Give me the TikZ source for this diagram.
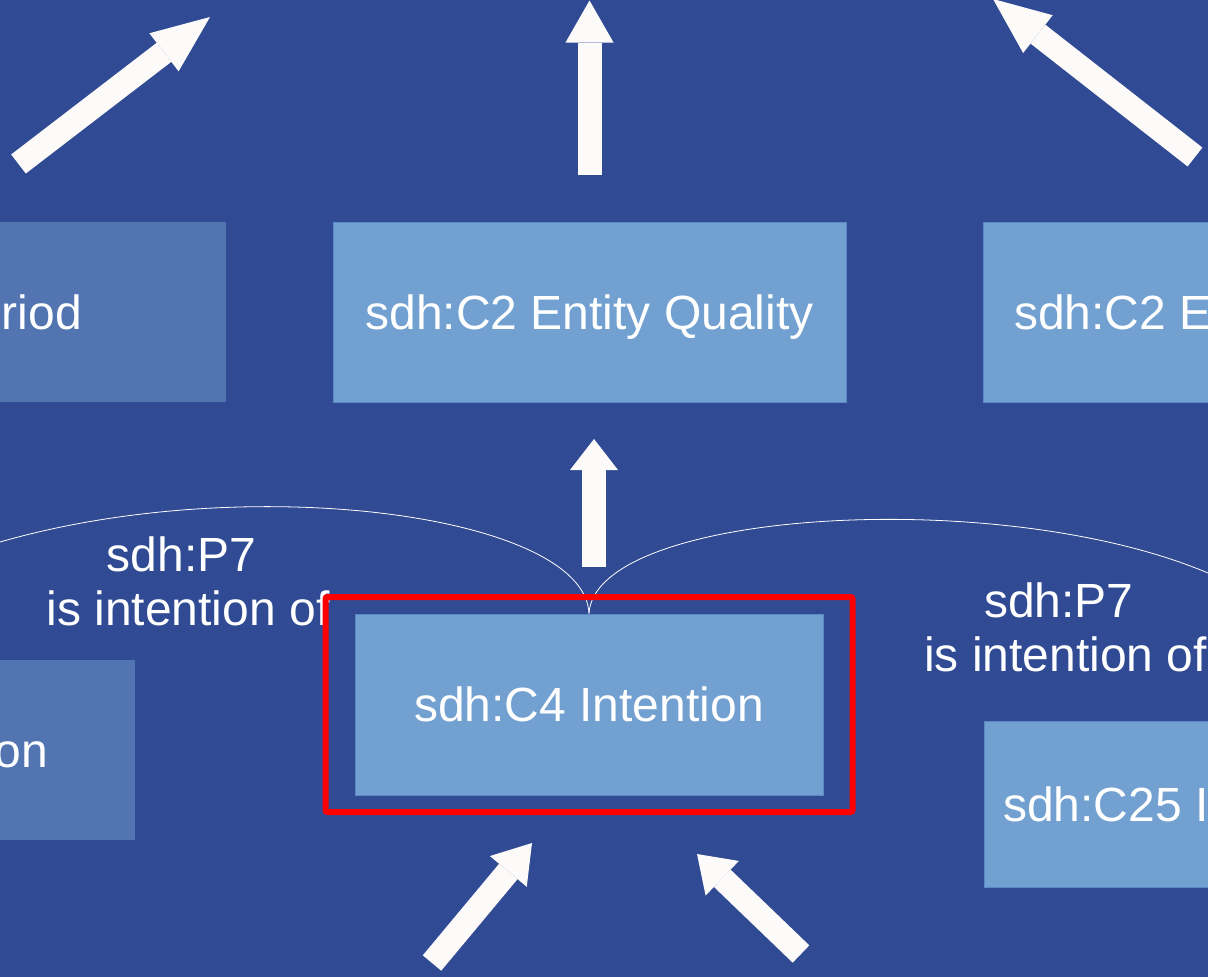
\documentclass[tikz,border=0pt]{standalone}
\usepackage{fontspec}
\setmainfont{Liberation Sans}
\usetikzlibrary{arrows.meta,calc}
\definecolor{bg}{RGB}{48,75,148}
\definecolor{boxfill}{RGB}{114,160,208}
\definecolor{boxedge}{RGB}{92,137,198}
\definecolor{fadefill}{RGB}{82,117,178}
\definecolor{arrowwhite}{RGB}{253,250,250}
\tikzset{
  bigfont/.style={font=\fontsize{48}{54}\selectfont},
  cls/.style={fill=boxfill, draw=boxedge, line width=1pt, text=white, bigfont,
              text height=34.5pt, text depth=0pt, inner sep=0pt},
  fadecls/.style={fill=fadefill, draw=none, inner sep=0pt},
  txt/.style={text=white, bigfont, inner sep=0pt},
  lbl/.style={text=white, bigfont, inner sep=0pt, align=center},
  rel/.style={draw=white, line width=0.8pt},
  bigarrow/.style={draw=arrowwhite, line width=24pt,
     -{Triangle[length=#1, width=48pt, line width=0pt]}},
  highlight/.style={draw=red, line width=6pt, rounded corners=2pt, inner sep=0pt},
}
\begin{document}
\begin{tikzpicture}[x=1pt,y=-1pt]
\useasboundingbox (0,0) rectangle (1208,977);
\fill[bg] (0,0) rectangle (1208,977);
\clip (0,0) rectangle (1208,977);

% boxes
\node[fadecls, minimum width=226pt, minimum height=180pt, anchor=north west] (topleft) at (0,222) {};
\node[txt, anchor=base east] (topleftlabel) at (82,329) {eriod};
\node[cls, minimum width=513pt, minimum height=180pt] (quality) at (589.5,312) {sdh:C2 Entity Quality};
\node[cls, minimum width=240pt, minimum height=180pt, anchor=north west] (topright) at (983,222) {};
\node[txt, anchor=base west] (toprightlabel) at (1014,329) {sdh:C2 E};

\node[fadecls, minimum width=135pt, minimum height=180pt, anchor=north west] (left) at (0,660) {};
\node[txt, anchor=base east] (leftlabel) at (48,767) {on};
\node[cls, minimum width=468pt, minimum height=181pt] (intention) at (589,704.5) {sdh:C4 Intention};
\node[cls, minimum width=240pt, minimum height=166pt, anchor=north west] (c25) at (984,721) {};
\node[txt, anchor=base west] (c25label) at (1003,821) {sdh:C25 I};

% relation curves
\coordinate (leftend) at (0,542);
\coordinate (rightend) at (1208,573);
\draw[rel] (intention.north) .. controls (585,515) and (250,470) .. (leftend);
\draw[rel] (intention.north) .. controls (595,510) and (1000,485) .. (rightend);

% block arrows
\coordinate (a1tail) at (18.5,164);   \coordinate (a1tip) at (210,17);
\coordinate (a2tail) at (589.5,175);  \coordinate (a2tip) at (589.5,0.5);
\coordinate (a3tail) at (1195,157);   \coordinate (a3tip) at (993,-1);
\coordinate (a4tail) at (594,567);    \coordinate (a4tip) at (594,439);
\coordinate (a5tail) at (432,963);    \coordinate (a5tip) at (532,843);
\coordinate (a6tail) at (801,954);    \coordinate (a6tip) at (697,854);
\draw[bigarrow=58pt] (a1tail) -- (a1tip);
\draw[bigarrow=42pt] (a2tail) -- (a2tip);
\draw[bigarrow=57pt] (a3tail) -- (a3tip);
\draw[bigarrow=31pt] (a4tail) -- (a4tip);
\draw[bigarrow=37pt] (a5tail) -- (a5tip);
\draw[bigarrow=35pt] (a6tail) -- (a6tip);

% relation labels
\node[lbl, anchor=north] (p7left) at (188,537) {sdh:P7\hspace*{13.3pt}\\is intention of};
\node[lbl, anchor=north] (p7right) at (1065.5,583) {sdh:P7\hspace*{13.3pt}\\is intention of};

% highlight
\node[highlight, minimum width=527pt, minimum height=215pt] (focus) at (589,704.5) {};
\end{tikzpicture}
\end{document}
